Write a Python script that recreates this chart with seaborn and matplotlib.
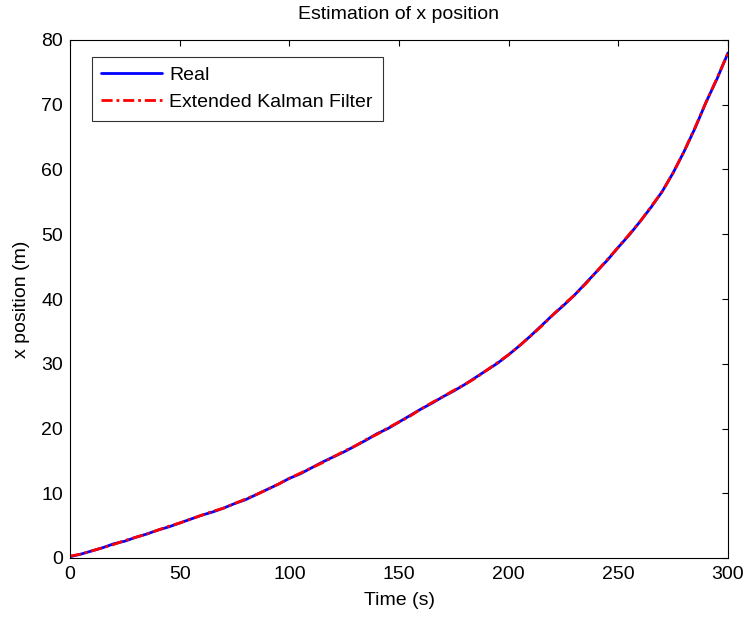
import numpy as np
import pandas as pd
import matplotlib
matplotlib.use("Agg")
import matplotlib.pyplot as plt
import seaborn as sns

sns.set_style("white")
plt.rcParams['font.family'] = ['Liberation Sans', 'DejaVu Sans']
plt.rcParams['text.color'] = 'black'
plt.rcParams['axes.labelcolor'] = 'black'

# values
time_s = [0, 5, 10, 15, 20, 25, 30, 35, 40, 45, 50, 55, 60, 65, 70, 75, 80, 85, 90, 95,
          100, 105, 110, 115, 120, 125, 130, 135, 140, 145, 150, 155, 160, 165, 170, 175,
          180, 185, 190, 195, 200, 205, 210, 215, 220, 225, 230, 235, 240, 245, 250, 255,
          260, 265, 270, 275, 280, 285, 290, 295, 300]
x_real = [0.2, 0.6, 1.1, 1.6, 2.2, 2.6, 3.2, 3.7, 4.3, 4.8, 5.4, 6.0, 6.6, 7.1, 7.7, 8.4,
          9.0, 9.8, 10.6, 11.4, 12.3, 13.0, 13.9, 14.8, 15.6, 16.4, 17.3, 18.2, 19.2, 20.0,
          21.0, 22.0, 23.0, 23.9, 24.9, 25.8, 26.8, 27.9, 29.0, 30.1, 31.4, 32.8, 34.3, 35.9,
          37.5, 39.0, 40.6, 42.4, 44.2, 46.0, 48.0, 49.9, 52.0, 54.2, 56.6, 59.5, 62.8,
          66.4, 70.4, 74.0, 78.0]
x_ekf = [0.3, 0.6, 1.1, 1.6, 2.1, 2.7, 3.2, 3.7, 4.3, 4.9, 5.4, 6.0, 6.6, 7.2, 7.7, 8.4,
         9.1, 9.8, 10.6, 11.4, 12.3, 13.1, 13.9, 14.7, 15.6, 16.5, 17.3, 18.3, 19.1, 20.1,
         21.0, 21.9, 23.0, 24.0, 24.9, 25.9, 26.8, 27.8, 29.0, 30.2, 31.4, 32.8, 34.3, 35.8,
         37.5, 39.1, 40.6, 42.3, 44.2, 46.1, 48.0, 50.0, 52.0, 54.3, 56.6, 59.5, 62.8,
         66.5, 70.4, 74.1, 78.0]
labels = ['Real', 'Extended Kalman Filter']
title = 'Estimation of x position'

FS = 14

df = pd.DataFrame({'t': time_s, 'real': x_real, 'ekf': x_ekf})

fig = plt.figure(figsize=(7.48, 6.17), dpi=100)
ax = fig.add_axes([70/748, 59/617, 658/748, 518/617])

sns.lineplot(data=df, x='t', y='real', ax=ax, color='#0000ff', linewidth=2, label=labels[0])
sns.lineplot(data=df, x='t', y='ekf', ax=ax, color='#ff0000', linewidth=2,
             dashes=False, label=labels[1])
ax.lines[1].set_dashes([4, 1.4, 1, 1.4])

ax.set_xlim(0, 300)
ax.set_ylim(0, 80)
ax.set_xticks(np.arange(0, 301, 50))
ax.set_yticks(np.arange(0, 81, 10))
ax.tick_params(direction='in', top=True, right=True, length=4, width=0.8,
               labelsize=FS, colors='black')
ax.tick_params(axis='x', pad=6)
ax.tick_params(axis='y', pad=5)
for s in ax.spines.values():
    s.set_color('black')
    s.set_linewidth(0.8)

ax.set_xlabel('Time (s)', fontsize=FS, labelpad=6)
ax.set_ylabel('x position (m)', fontsize=FS, labelpad=8)
ax.set_title(title, fontsize=FS, pad=15)

leg = ax.legend(loc='upper left', bbox_to_anchor=(0.033, 0.968), borderaxespad=0,
                fontsize=FS, frameon=True, fancybox=False, handlelength=3.1,
                handletextpad=0.4, borderpad=0.5, labelspacing=0.5)
leg.get_frame().set_edgecolor('black')
leg.get_frame().set_linewidth(0.8)

fig.savefig('out.png', dpi=100)
